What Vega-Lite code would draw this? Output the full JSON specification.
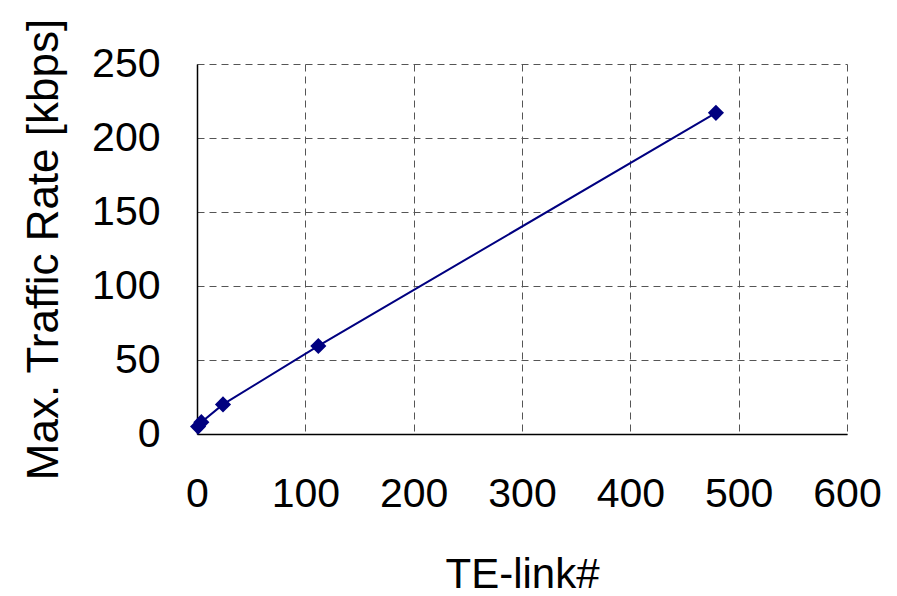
{
  "$schema": "https://vega.github.io/schema/vega-lite/v6.json",
  "width": 650,
  "height": 370,
  "autosize": {"type": "none"},
  "padding": {"left": 197, "top": 64, "right": 50, "bottom": 162},
  "background": "white",
  "config": {
    "view": {"stroke": null},
    "font": "Liberation Sans"
  },
  "data": {
    "values": [
      {"links": 1, "rate": 5},
      {"links": 4, "rate": 8},
      {"links": 24, "rate": 20},
      {"links": 112, "rate": 59.5},
      {"links": 479, "rate": 217}
    ]
  },
  "encoding": {
    "x": {
      "field": "links",
      "type": "quantitative",
      "title": "TE-link#",
      "scale": {"domain": [0, 600], "nice": false},
      "axis": {
        "values": [0, 100, 200, 300, 400, 500, 600],
        "labelFontSize": 41,
        "labelColor": "black",
        "labelPadding": 40,
        "labelFlush": false,
        "labelOverlap": false,
        "tickSize": 0,
        "domainColor": "black",
        "domainWidth": 1.5,
        "gridColor": "#555555",
        "gridDash": [7, 5],
        "gridWidth": 1,
        "titleFontSize": 42,
        "titleFontWeight": "normal",
        "titleColor": "black",
        "titlePadding": 40
      }
    },
    "y": {
      "field": "rate",
      "type": "quantitative",
      "title": "Max. Traffic Rate [kbps]",
      "scale": {"domain": [0, 250], "nice": false},
      "axis": {
        "values": [0, 50, 100, 150, 200, 250],
        "labelFontSize": 41,
        "labelColor": "black",
        "labelPadding": 37,
        "labelFlush": false,
        "labelOverlap": false,
        "tickSize": 0,
        "domainColor": "black",
        "domainWidth": 1.5,
        "gridColor": "#555555",
        "gridDash": [7, 5],
        "gridWidth": 1,
        "titleFontSize": 44,
        "titleFontWeight": "normal",
        "titleColor": "black",
        "titlePadding": 25
      }
    }
  },
  "layer": [
    {
      "mark": {"type": "line", "color": "#000080", "strokeWidth": 2}
    },
    {
      "mark": {"type": "point", "shape": "diamond", "filled": true, "color": "#000080", "size": 260, "opacity": 1}
    }
  ]
}
